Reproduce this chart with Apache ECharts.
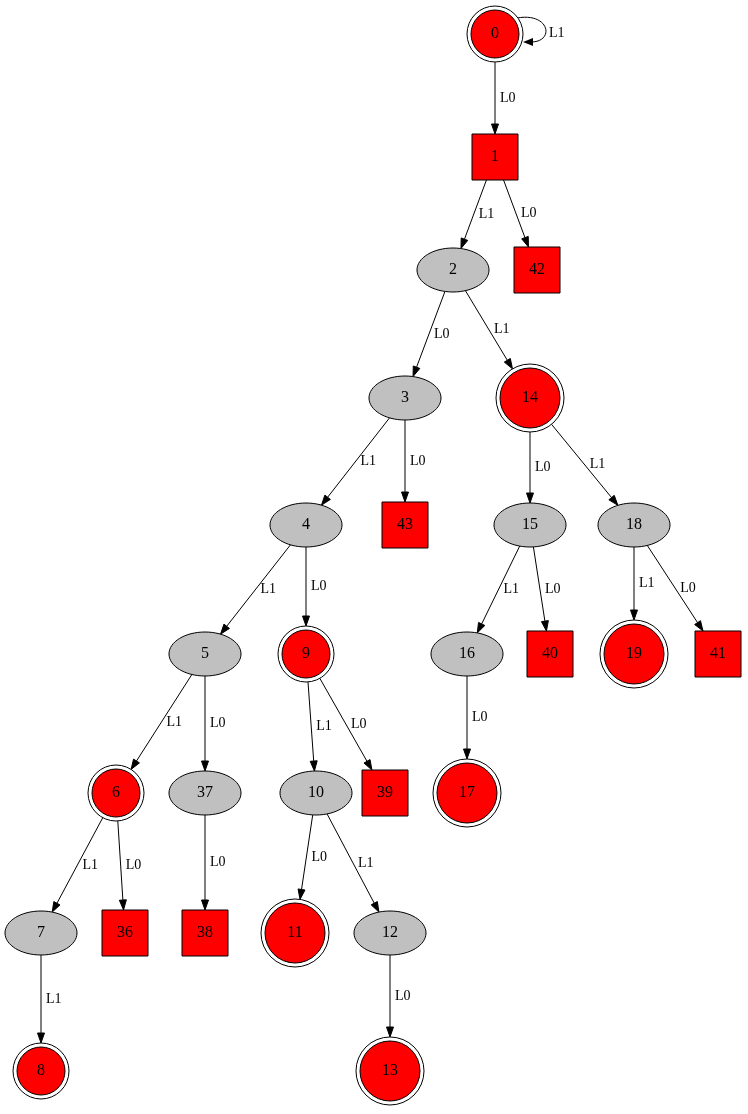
<!DOCTYPE html><html><head><meta charset="utf-8">
<script src="https://cdn.jsdelivr.net/npm/echarts@6/dist/echarts.min.js"></script>
<style>html,body{margin:0;background:#fff}#c{width:748px;height:1114px}</style></head><body><div id="c"></div>
<script>
// node: [id, x, y, shape]  shape: e=ellipse, s=square, d=doublecircle small, D=doublecircle big
const nodeIds   = ['0','1','42','2','3','14','4','43','15','18','5','9','16','40','19','41','6','37','10','39','17','7','36','38','11','12','8','13'];
const nodeX     = [495,495,537,453,405,530,306,405,530,634,205,306,467,550,634,718,116,205,316,385,467,41,125,205,295,390,41,390];
const nodeY     = [34,157,270,270,398,398,525,525,525,525,654,654,654,654,654,654,793,793,793,793,793,933,933,933,933,933,1071,1071];
const nodeShape = ['d','s','s','e','e','D','e','s','e','e','e','d','e','s','D','s','d','e','e','s','D','e','s','s','D','e','d','D'];
const edgeFrom  = ['0','1','1','2','2','3','3','14','14','4','4','15','15','18','18','5','5','9','9','16','6','6','37','10','10','7','12'];
const edgeTo    = ['1','2','42','3','14','4','43','15','18','5','9','16','40','19','41','6','37','10','39','17','7','36','38','11','12','8','13'];
const edgeLabel = ['L0','L1','L0','L0','L1','L1','L0','L0','L1','L1','L0','L1','L0','L1','L0','L1','L0','L1','L0','L0','L1','L0','L0','L0','L1','L1','L0'];
const selfLoop  = {node:'0', label:'L1'};

const idx = {}; nodeIds.forEach((n,i)=>idx[n]=i);
const SZ = {e:[36,22], s:[23,23], d:[28,28], D:[34,34]};
function clip(shape, dx, dy){
  const [a,b]=SZ[shape];
  if(shape==='s') return Math.min(a/Math.abs(dx||1e-9), b/Math.abs(dy||1e-9));
  return 1/Math.sqrt((dx/a)**2+(dy/b)**2);
}
const font='"Liberation Serif", "DejaVu Serif", serif';
const chart = echarts.init(document.getElementById('c'));
chart.setOption({
  animation:false,
  grid:{left:0,right:0,top:0,bottom:0},
  xAxis:{type:'value',min:0,max:748,show:false},
  yAxis:{type:'value',min:0,max:1114,inverse:true,show:false},
  series:[
  {type:'custom', data: edgeFrom.map((f,i)=>[idx[f], idx[edgeTo[i]], i]),
   renderItem(params, api){
     const a=api.value(0), b=api.value(1), k=api.value(2);
     const p=api.coord([nodeX[a],nodeY[a]]), q=api.coord([nodeX[b],nodeY[b]]);
     const dx=q[0]-p[0], dy=q[1]-p[1], L=Math.hypot(dx,dy), ux=dx/L, uy=dy/L;
     const t1=clip(nodeShape[a],dx,dy), t2=clip(nodeShape[b],-dx,-dy);
     const s=[p[0]+dx*t1, p[1]+dy*t1], e=[q[0]-dx*t2, q[1]-dy*t2];
     const al=10, aw=3.5;
     const base=[e[0]-ux*al, e[1]-uy*al];
     const mx=(s[0]+e[0])/2, my=(s[1]+e[1])/2;
     return {type:'group', children:[
       {type:'line', shape:{x1:s[0],y1:s[1],x2:base[0],y2:base[1]}, style:{stroke:'#000',lineWidth:1}},
       {type:'polygon', shape:{points:[e,[base[0]-uy*aw,base[1]+ux*aw],[base[0]+uy*aw,base[1]-ux*aw]]}, style:{fill:'#000',stroke:'#000'}},
       {type:'text', x:mx+5, y:my, style:{text:edgeLabel[k], font:'14px '+font, fill:'#000', verticalAlign:'middle', align:'left'}}
     ]};
   }},
  {type:'custom', data:[[idx[selfLoop.node]]],
   renderItem(params, api){
     const i=api.value(0); const c=api.coord([nodeX[i],nodeY[i]]);
     const x=c[0], y=c[1];
     return {type:'group', children:[
       {type:'bezierCurve', shape:{x1:x+22,y1:y-16,cpx1:x+55,cpy1:y-22,x2:x+36,y2:y+8,cpx2:x+60,cpy2:y+8}, style:{stroke:'#000',fill:null,lineWidth:1}},
       {type:'polygon', shape:{points:[[x+28,y+8],[x+38,y+4],[x+38,y+12]]}, style:{fill:'#000'}},
       {type:'text', x:x+54, y:y-1, style:{text:selfLoop.label, font:'14px '+font, fill:'#000', verticalAlign:'middle'}}
     ]};
   }},
  {type:'custom', data: nodeIds.map((n,i)=>[i]),
   renderItem(params, api){
     const i=api.value(0); const c=api.coord([nodeX[i],nodeY[i]]); const sh=nodeShape[i];
     const ch=[];
     if(sh==='e') ch.push({type:'ellipse', shape:{cx:c[0],cy:c[1],rx:36,ry:22}, style:{fill:'#c0c0c0',stroke:'#000',lineWidth:1}});
     else if(sh==='s') ch.push({type:'rect', shape:{x:c[0]-23,y:c[1]-23,width:46,height:46}, style:{fill:'#ff0000',stroke:'#000',lineWidth:1}});
     else { const r=SZ[sh][0];
       ch.push({type:'circle', shape:{cx:c[0],cy:c[1],r:r}, style:{fill:'#fff',stroke:'#000',lineWidth:1}});
       ch.push({type:'circle', shape:{cx:c[0],cy:c[1],r:r-4}, style:{fill:'#ff0000',stroke:'#000',lineWidth:1}}); }
     ch.push({type:'text', x:c[0], y:c[1], style:{text:nodeIds[i], font:'16px '+font, fill:'#000', align:'center', verticalAlign:'middle'}});
     return {type:'group', children:ch};
   }}
  ]
});
</script></body></html>
